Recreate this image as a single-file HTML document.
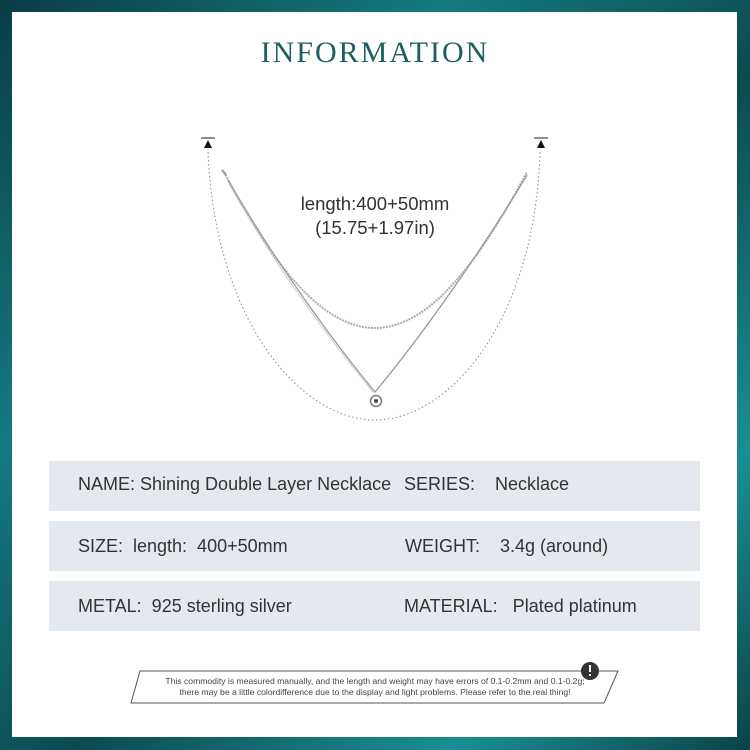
<!DOCTYPE html>
<html><head><meta charset="utf-8"><style>
body{margin:0;width:750px;height:750px;overflow:hidden;background:#0d4f56;}
.bg{position:absolute;left:0;top:0;width:750px;height:750px;background:linear-gradient(135deg,#0a3d45 0%,#157a80 30%,#0c4a52 55%,#1a8f93 80%,#0b4249 100%);}
.panel{position:absolute;left:12px;top:12px;width:725px;height:725px;background:#fff;}
.t{position:absolute;font-family:"Liberation Sans",sans-serif;color:#333;white-space:nowrap;}
.row{position:absolute;left:49px;width:651px;height:50px;background:#e3e9ee;}
.r{font-size:18px;}
</style></head><body>
<div class="bg"></div>
<div class="panel"></div>
<div class="t" style="left:0;width:750px;text-align:center;top:36px;font-family:'Liberation Serif',serif;font-size:30px;letter-spacing:2px;color:#1d5f61;">INFORMATION</div>
<svg style="position:absolute;left:0;top:0" width="750" height="750">
<line x1="201" y1="138" x2="215" y2="138" stroke="#222" stroke-width="1"/>
<polygon points="208,140 204,148 212,148" fill="#111"/>
<line x1="534" y1="138" x2="548" y2="138" stroke="#222" stroke-width="1"/>
<polygon points="541,140 537,148 545,148" fill="#111"/>
<path d="M208,152 C215,320 300,420 375,420 C450,420 535,320 540,152" fill="none" stroke="#888" stroke-width="1" stroke-dasharray="1.5,2.5"/>
<path d="M224,172 C270,260 320,328 375,328 C430,328 480,260 527,172" fill="none" stroke="#aaa" stroke-width="2" stroke-dasharray="2,1"/>
<path d="M222,170 L226,175" stroke="#999" stroke-width="2"/>
<path d="M228,180 C280,270 340,350 375,392 C410,350 470,270 527,175" fill="none" stroke="#999" stroke-width="1.3"/>
<path d="M228,182 C278,272 338,350 373,392" fill="none" stroke="#ccc" stroke-width="1"/>
<circle cx="376" cy="401" r="5.5" fill="none" stroke="#777" stroke-width="1.5"/>
<circle cx="376" cy="401" r="2" fill="#445"/>
<polygon points="140,671 618,671 604,703 131,703" fill="none" stroke="#555" stroke-width="1"/>
<circle cx="590" cy="671" r="9" fill="#333"/>
<rect x="589" y="665" width="2" height="7" fill="#fff"/><rect x="589" y="674" width="2" height="2" fill="#fff"/>
</svg>
<div class="t" style="left:0;width:750px;text-align:center;top:192px;font-size:18.5px;line-height:24px;">length:400+50mm<br>(15.75+1.97in)</div>
<div class="row" style="top:461px"></div>
<div class="row" style="top:521px"></div>
<div class="row" style="top:581px"></div>
<div class="t r" style="left:78px;top:474px;">NAME: Shining Double Layer Necklace</div>
<div class="t r" style="left:404px;top:474px;">SERIES:&nbsp;&nbsp;&nbsp;&nbsp;Necklace</div>
<div class="t r" style="left:78px;top:536px;">SIZE:&nbsp;&nbsp;length:&nbsp;&nbsp;400+50mm</div>
<div class="t r" style="left:405px;top:536px;">WEIGHT:&nbsp;&nbsp;&nbsp;&nbsp;3.4g (around)</div>
<div class="t r" style="left:78px;top:596px;">METAL:&nbsp;&nbsp;925 sterling silver</div>
<div class="t r" style="left:404px;top:596px;">MATERIAL:&nbsp;&nbsp;&nbsp;Plated platinum</div>
<div class="t" style="left:0;width:750px;text-align:center;top:676px;font-size:8.6px;line-height:11px;color:#444;">This commodity is measured manually, and the length and weight may have errors of 0.1-0.2mm and 0.1-0.2g;<br>there may be a little colordifference due to the display and light problems. Please refer to the real thing!</div>
</body></html>
